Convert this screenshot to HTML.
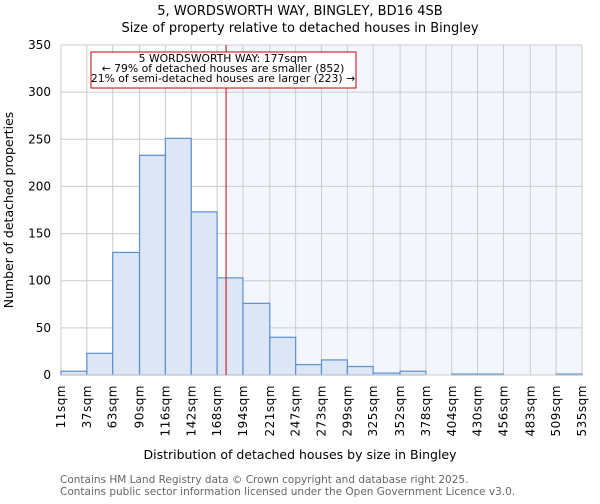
<!DOCTYPE html>
<html><head><meta charset="utf-8"><style>
body{margin:0;background:#fff;font-family:"DejaVu Sans","Liberation Sans",sans-serif}
svg text{font-family:"DejaVu Sans","Liberation Sans",sans-serif}
</style></head><body>
<svg id="chart" width="600" height="500">
<text x="300" y="15" text-anchor="middle" font-size="13">5, WORDSWORTH WAY, BINGLEY, BD16 4SB</text>
<text x="300" y="32" text-anchor="middle" font-size="13">Size of property relative to detached houses in Bingley</text>
<g id="plot"></g>
<text x="300" y="459" text-anchor="middle" font-size="12.5">Distribution of detached houses by size in Bingley</text>
<text transform="translate(13,210) rotate(-90)" text-anchor="middle" font-size="12.5">Number of detached properties</text>
<text x="60" y="483" font-size="10.5" fill="#666">Contains HM Land Registry data © Crown copyright and database right 2025.</text>
<text x="60" y="495" font-size="10.5" fill="#666">Contains public sector information licensed under the Open Government Licence v3.0.</text>
</svg>
<script>
const binEdges=[11,37,63,90,116,142,168,194,221,247,273,299,325,352,378,404,430,456,483,509,535];
const counts=[4,23,130,233,251,173,103,76,40,11,16,9,2,4,0,1,1,0,0,1];
const yTicks=[0,50,100,150,200,250,300,350];
const propertySize=177;
const NS="http://www.w3.org/2000/svg";
const L=61,R=582,T=45,B=375,xmin=11,xmax=535,ymax=350;
const x=v=>L+(v-xmin)/(xmax-xmin)*(R-L);
const y=v=>B-v/ymax*(B-T);
const g=document.getElementById('plot');
function mk(t,a){const e=document.createElementNS(NS,t);for(const k in a)e.setAttribute(k,a[k]);g.appendChild(e);return e;}
const px=x(propertySize);
let sh=mk('rect',{x:px,y:T,width:R-px,height:B-T,fill:'#f3f6fd'});


yTicks.forEach(t=>{
 let l=mk('line',{x1:L,x2:R,y1:y(t),y2:y(t),stroke:'#ccc','stroke-width':1});
 
 
 let tx=mk('text',{x:L-10,y:y(t)+4,'text-anchor':'end','font-size':12});
 tx.textContent=t;
 
 
});
binEdges.forEach(e=>{
 let l=mk('line',{x1:x(e),x2:x(e),y1:T,y2:B,stroke:'#ccc','stroke-width':1});
 
 
 let tx=mk('text',{transform:`translate(${x(e)+4},${B+10}) rotate(-90)`,'text-anchor':'end','font-size':12,'letter-spacing':'0.5'});
 tx.textContent=e+'sqm';
 
 
});
counts.forEach((c,i)=>{
 if(c<=0)return;
 let r=mk('rect',{x:x(binEdges[i]),y:y(c),width:x(binEdges[i+1])-x(binEdges[i]),height:B-y(c),fill:'#dce6f4',stroke:'#5b8fd6','stroke-width':1.2});
 
 
});
let ax=mk('line',{x1:L,x2:R,y1:B,y2:B,stroke:'#ccc'});


let pl=mk('line',{x1:px,x2:px,y1:T,y2:B,stroke:'#c00','stroke-width':1});


let box=mk('rect',{x:91,y:52,width:265,height:36,fill:'#fff',stroke:'#c00','stroke-width':1});


['5 WORDSWORTH WAY: 177sqm','← 79% of detached houses are smaller (852)','21% of semi-detached houses are larger (223) →'].forEach((s,i)=>{
 let t=mk('text',{x:223,y:62+i*10,'text-anchor':'middle','font-size':10.8});
 t.textContent=s;
 
 
});
</script>
</body></html>
